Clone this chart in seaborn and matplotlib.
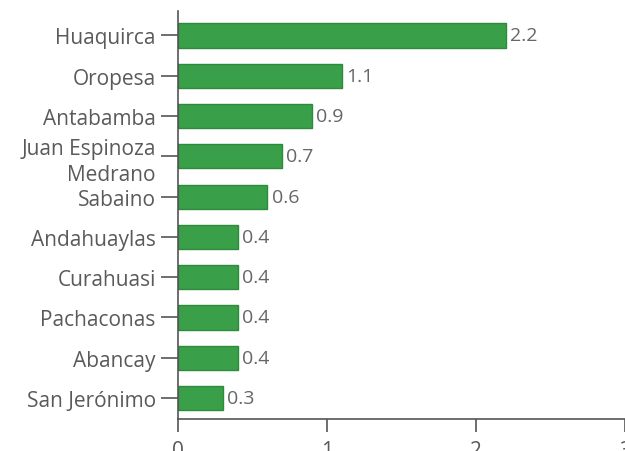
import matplotlib
matplotlib.use("Agg")
import matplotlib.pyplot as plt
import seaborn as sns
import pandas as pd

districts = ["Huaquirca", "Oropesa", "Antabamba", "Juan Espinoza\nMedrano", "Sabaino",
             "Andahuaylas", "Curahuasi", "Pachaconas", "Abancay", "San Jerónimo"]
values = [2.2, 1.1, 0.9, 0.7, 0.6, 0.4, 0.4, 0.4, 0.4, 0.3]
value_labels = ["2.2", "1.1", "0.9", "0.7", "0.6", "0.4", "0.4", "0.4", "0.4", "0.3"]
x_ticks = [0, 1, 2, 3]

df = pd.DataFrame({"district": districts, "value": values})

sns.set_theme(style="white")
plt.rcParams["font.family"] = ["Open Sans", "DejaVu Sans"]

fig = plt.figure(figsize=(6.25, 4.52), dpi=100)
ax = fig.add_axes([0.2848, 0.0708, 0.7152, 0.902])

sns.barplot(data=df, x="value", y="district", orient="h", color="#3a9f49",
            saturation=1, width=0.6, edgecolor="#2e8a3c", linewidth=1, ax=ax)

ax.set_xlim(0, 3)
ax.set_ylim(9.52, -0.6)
ax.set_xticks(x_ticks)
ax.set_xticklabels([str(t) for t in x_ticks])
ax.set_xlabel("")
ax.set_ylabel("")

for t in ax.get_yticklabels():
    t.set_linespacing(1.3)

for i, (v, lab) in enumerate(zip(values, value_labels)):
    ax.annotate(lab, xy=(v, i), xytext=(3, 0), textcoords="offset points",
                va="center", ha="left", fontsize=14, color="#666666")

for s in ["top", "right"]:
    ax.spines[s].set_visible(False)
for s in ["left", "bottom"]:
    ax.spines[s].set_color("#555555")
    ax.spines[s].set_linewidth(1.2)

ax.tick_params(axis="y", length=12.5, width=1.2, color="#555555", pad=3.5,
               labelsize=15, labelcolor="#5a5a5a", left=True)
ax.tick_params(axis="x", length=9, width=1.2, color="#555555", pad=6,
               labelsize=15, labelcolor="#5a5a5a", bottom=True)

fig.savefig("out.png", dpi=100, facecolor="white")
